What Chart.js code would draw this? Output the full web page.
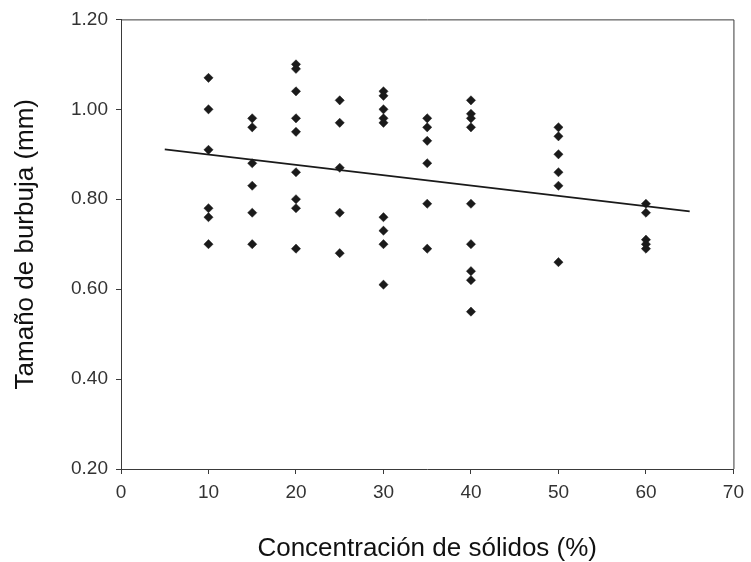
<!DOCTYPE html>
<html>
<head>
<meta charset="utf-8">
<script src="https://cdn.jsdelivr.net/npm/chart.js@4/dist/chart.umd.min.js"></script>
<style>
  html, body { margin: 0; padding: 0; background: #ffffff; }
  #wrap { width: 751px; height: 562px; }
</style>
</head>
<body>
<div id="wrap"><canvas id="c" width="751" height="562"></canvas></div>
<script>
// ---- data ----
const concentrations = [10, 15, 20, 25, 30, 35, 40, 50, 60];
const sizes10 = [1.07, 1.00, 0.91, 0.78, 0.76, 0.70];
const sizes15 = [0.98, 0.96, 0.88, 0.83, 0.77, 0.70];
const sizes20 = [1.10, 1.09, 1.04, 0.98, 0.95, 0.86, 0.80, 0.78, 0.69];
const sizes25 = [1.02, 0.97, 0.87, 0.77, 0.68];
const sizes30 = [1.04, 1.03, 1.00, 0.98, 0.97, 0.76, 0.73, 0.70, 0.61];
const sizes35 = [0.98, 0.96, 0.93, 0.88, 0.79, 0.69];
const sizes40 = [1.02, 0.99, 0.98, 0.96, 0.79, 0.70, 0.64, 0.62, 0.55];
const sizes50 = [0.96, 0.94, 0.90, 0.86, 0.83, 0.66];
const sizes60 = [0.79, 0.77, 0.71, 0.70, 0.69];
const trendX = [5, 65];
const trendY = [0.911, 0.773];
const xTicks = [0, 10, 20, 30, 40, 50, 60, 70];
const yTicks = [0.20, 0.40, 0.60, 0.80, 1.00, 1.20];

const groups = [sizes10, sizes15, sizes20, sizes25, sizes30, sizes35, sizes40, sizes50, sizes60];
const scatterPoints = [];
groups.forEach((g, i) => g.forEach(v => scatterPoints.push({ x: concentrations[i], y: v })));
const trendPoints = trendX.map((x, i) => ({ x: x, y: trendY[i] }));

const axisColor = '#3a3a3a';

const framePlugin = {
  id: 'frame',
  afterDatasetsDraw(chart) {
    const { ctx, chartArea: a } = chart;
    ctx.save();
    ctx.strokeStyle = axisColor;
    ctx.lineWidth = 1;
    ctx.beginPath();
    ctx.moveTo(a.left, a.top + 0.5);
    ctx.lineTo(a.right + 0.5, a.top + 0.5);
    ctx.lineTo(a.right + 0.5, a.bottom);
    ctx.stroke();
    ctx.restore();
  }
};

new Chart(document.getElementById('c'), {
  type: 'scatter',
  data: {
    datasets: [
      {
        type: 'line',
        data: trendPoints,
        borderColor: '#1a1a1a',
        borderWidth: 1.6,
        pointRadius: 0,
        fill: false,
        order: 2
      },
      {
        type: 'scatter',
        data: scatterPoints,
        pointStyle: 'rectRot',
        pointRadius: 4.6,
        backgroundColor: '#1a1a1a',
        borderColor: '#1a1a1a',
        borderWidth: 0.5,
        order: 1
      }
    ]
  },
  plugins: [framePlugin],
  options: {
    responsive: false,
    animation: false,
    devicePixelRatio: 1,
    layout: { padding: { top: 15, right: 13, left: 0, bottom: 0 } },
    plugins: { legend: { display: false }, tooltip: { enabled: false } },
    scales: {
      x: {
        type: 'linear',
        min: 0, max: 70,
        afterFit(scale) { scale.height = 93; },
        afterBuildTicks(scale) { scale.ticks = xTicks.map(v => ({ value: v })); },
        grid: { display: true, drawOnChartArea: false, drawTicks: true, tickLength: 5, color: axisColor },
        border: { display: true, color: axisColor, width: 1 },
        ticks: {
          color: '#333333',
          font: { family: 'Liberation Sans, Arial, sans-serif', size: 19 },
          padding: 7,
          maxRotation: 0,
          callback: v => String(v)
        },
        title: {
          display: true,
          text: 'Concentración de sólidos (%)',
          color: '#111111',
          font: { family: 'Liberation Sans, Arial, sans-serif', size: 26, lineHeight: 1.05 },
          padding: { top: 0, bottom: 0 }
        }
      },
      y: {
        type: 'linear',
        min: 0.2, max: 1.2,
        afterFit(scale) { scale.width = 121; },
        afterBuildTicks(scale) { scale.ticks = yTicks.map(v => ({ value: v })); },
        grid: { display: true, drawOnChartArea: false, drawTicks: true, tickLength: 5, color: axisColor },
        border: { display: true, color: axisColor, width: 1 },
        ticks: {
          color: '#333333',
          font: { family: 'Liberation Sans, Arial, sans-serif', size: 19 },
          padding: 8,
          callback: v => Number(v).toFixed(2)
        },
        title: {
          display: true,
          text: 'Tamaño de burbuja (mm)',
          color: '#111111',
          font: { family: 'Liberation Sans, Arial, sans-serif', size: 26 },
          padding: { top: 10, bottom: 0 }
        }
      }
    }
  }
});
</script>
</body>
</html>
